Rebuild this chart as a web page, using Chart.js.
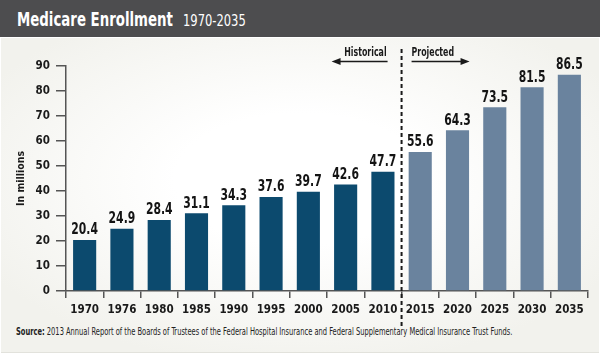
<!DOCTYPE html>
<html>
<head>
<meta charset="utf-8">
<script src="https://cdn.jsdelivr.net/npm/chart.js@4.4.1/dist/chart.umd.min.js"></script>
<style>
  html, body { margin: 0; padding: 0; background: #ffffff; }
  #wrap { position: relative; width: 600px; height: 357px; overflow: hidden; font-family: "DejaVu Sans Condensed", "Liberation Sans", sans-serif; }
  #bar { position: absolute; left: 0; top: 0; width: 600px; height: 37px; background: #4d4d4f; }
  #panel { position: absolute; left: 1px; top: 38px; width: 598px; height: 314px;
           background: radial-gradient(ellipse 60% 60% at 50% 45%, #ffffff 35%, #f2f2ed 100%);
           border-bottom: 1px solid #e2e2dc; }
  #title1 { position: absolute; left: 17px; top: 10px; height: 19px; line-height: 19px; white-space: nowrap; color: #ffffff;
            font-size: 19px; font-weight: bold; transform-origin: 0 50%; transform: scaleX(0.78); }
  #title2 { position: absolute; left: 183px; top: 12px; height: 17px; line-height: 17px; white-space: nowrap; color: #ffffff;
            font-size: 16px; font-weight: normal; transform-origin: 0 50%; transform: scaleX(0.8); }
  #source { position: absolute; left: 16px; top: 325px; line-height: 12px; font-size: 10.5px; color: #222; white-space: nowrap; transform-origin: 0 50%; }
  #source b { font-weight: bold; }
  canvas { position: absolute; left: 0; top: 0; }
</style>
</head>
<body>
<div id="wrap">
  <div id="bar"></div>
  <div id="panel"></div>
  <div id="title1">Medicare Enrollment</div>
  <div id="title2">1970-2035</div>
  <div id="source"><b>Source:</b> 2013 Annual Report of the Boards of Trustees of the Federal Hospital Insurance and Federal Supplementary Medical Insurance Trust Funds.</div>
  <canvas id="c" width="600" height="357"></canvas>
</div>
<script>
const years = ["1970","1976","1980","1985","1990","1995","2000","2005","2010","2015","2020","2025","2030","2035"];
const enrollment = [20.4, 24.9, 28.4, 31.1, 34.3, 37.6, 39.7, 42.6, 47.7, 55.6, 64.3, 73.5, 81.5, 86.5];
const firstProjectedYear = "2015";
const yTicks = [0, 10, 20, 30, 40, 50, 60, 70, 80, 90];
const axisTitle = "In millions";
const historicalLabel = "Historical";
const projectedLabel = "Projected";

const FONT = '"DejaVu Sans Condensed", "Liberation Sans", sans-serif';
const HIST_COLOR = '#0c4a6e';
const PROJ_COLOR = '#6a839e';
const projIndex = years.indexOf(firstProjectedYear);

// fit the source line to the reference width
(function () {
  const s = document.getElementById('source');
  const w = s.scrollWidth;
  s.style.transform = 'scaleX(' + (496 / w) + ')';
})();

function squeezedText(ctx, text, x, y, sx) {
  ctx.save();
  ctx.translate(x, y);
  ctx.scale(sx, 1);
  ctx.fillText(text, 0, 0);
  ctx.restore();
}

const valueLabels = {
  id: 'valueLabels',
  afterDatasetsDraw(chart) {
    const ctx = chart.ctx;
    const meta = chart.getDatasetMeta(0);
    ctx.save();
    ctx.font = 'bold 15px ' + FONT;
    ctx.fillStyle = '#141414';
    ctx.textAlign = 'center';
    ctx.textBaseline = 'bottom';
    meta.data.forEach((bar, i) => {
      squeezedText(ctx, enrollment[i].toFixed(1), bar.x, bar.y - 2, 0.8);
    });
    ctx.restore();
  }
};

const divider = {
  id: 'divider',
  afterDraw(chart) {
    const ctx = chart.ctx;
    const xs = chart.scales.x;
    const x = (xs.getPixelForValue(projIndex - 1) + xs.getPixelForValue(projIndex)) / 2;
    ctx.save();
    ctx.strokeStyle = '#1a1a1a';
    ctx.lineWidth = 2;
    ctx.setLineDash([4, 3]);
    ctx.beginPath();
    ctx.moveTo(x, 49);
    ctx.lineTo(x, 327);
    ctx.stroke();
    ctx.setLineDash([]);
    ctx.font = 'bold 11.5px ' + FONT;
    ctx.fillStyle = '#1a1a1a';
    ctx.textBaseline = 'alphabetic';
    ctx.textAlign = 'right';
    squeezedText(ctx, historicalLabel, x - 15, 56, 0.76);
    ctx.textAlign = 'left';
    squeezedText(ctx, projectedLabel, x + 10, 56, 0.76);
    ctx.lineWidth = 1.5;
    const ay = 61.5;
    ctx.beginPath();
    ctx.moveTo(x - 14, ay); ctx.lineTo(x - 66, ay);
    ctx.moveTo(x + 10, ay); ctx.lineTo(x + 63, ay);
    ctx.stroke();
    ctx.beginPath();
    ctx.moveTo(x - 70, ay); ctx.lineTo(x - 61, ay - 3.5); ctx.lineTo(x - 61, ay + 3.5); ctx.closePath();
    ctx.moveTo(x + 68, ay); ctx.lineTo(x + 59, ay - 3.5); ctx.lineTo(x + 59, ay + 3.5); ctx.closePath();
    ctx.fill();
    ctx.restore();
  }
};

new Chart(document.getElementById('c'), {
  type: 'bar',
  data: {
    labels: years,
    datasets: [{
      data: enrollment,
      backgroundColor: years.map((y, i) => i >= projIndex ? PROJ_COLOR : HIST_COLOR),
      barPercentage: 0.62,
      categoryPercentage: 1.0,
      borderWidth: 0
    }]
  },
  options: {
    responsive: false,
    animation: false,
    devicePixelRatio: 1,
    layout: { padding: { top: 66, right: 12, left: 0, bottom: 0 } },
    plugins: { legend: { display: false }, tooltip: { enabled: false }, title: { display: false } },
    scales: {
      x: {
        afterFit(scale) { scale.height = 66; },
        grid: { offset: true, drawOnChartArea: false, drawTicks: true, tickLength: 7, color: '#555', lineWidth: 1.5 },
        border: { display: true, color: '#555', width: 1.5 },
        ticks: { font: { family: FONT, size: 11.5, weight: 'bold' }, color: '#1a1a1a', padding: 5, maxRotation: 0, autoSkip: false }
      },
      y: {
        min: 0, max: 90,
        afterFit(scale) { scale.width = 66; },
        afterBuildTicks(scale) { scale.ticks = yTicks.map(v => ({ value: v })); },
        grid: { drawOnChartArea: false, drawTicks: true, tickLength: 10, color: '#555', lineWidth: 1.5 },
        border: { display: true, color: '#555', width: 1.5 },
        ticks: { font: { family: FONT, size: 11.5, weight: 'bold' }, color: '#1a1a1a', padding: 6 },
        title: { display: true, text: axisTitle, font: { family: FONT, size: 10.5, weight: 'bold' }, color: '#1a1a1a', padding: { top: 15, bottom: 0 } }
      }
    }
  },
  plugins: [valueLabels, divider]
});
</script>
</body>
</html>
